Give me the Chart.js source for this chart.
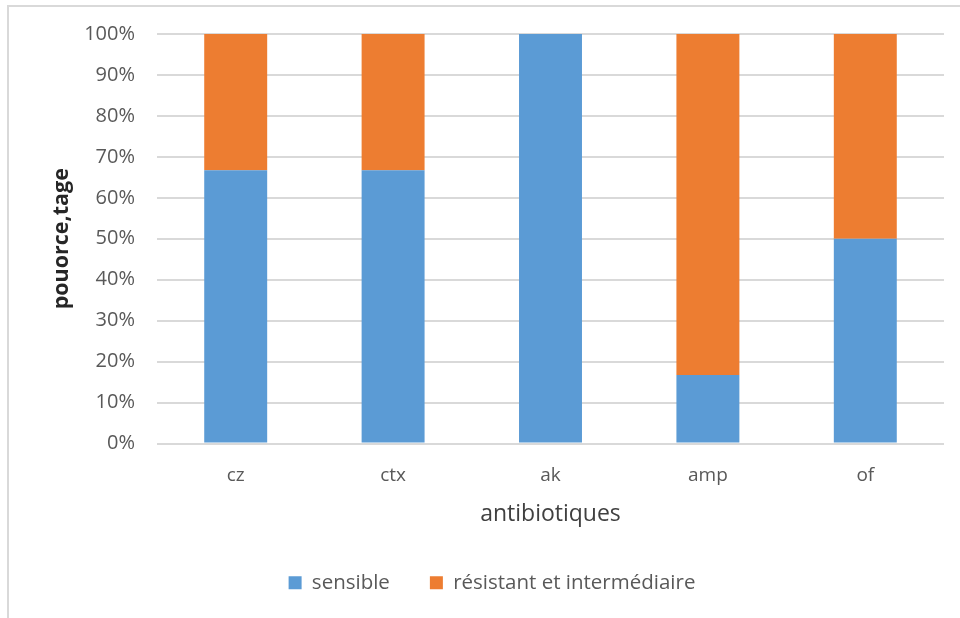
<!DOCTYPE html>
<html>
<head>
<meta charset="utf-8">
<script src="https://cdn.jsdelivr.net/npm/chart.js@4/dist/chart.umd.min.js"></script>
<style>
  html, body { margin: 0; padding: 0; background: #fff; }
  #wrap { position: relative; width: 960px; height: 618px; }
</style>
</head>
<body>
<div id="wrap"><canvas id="c" width="960" height="618"></canvas></div>
<script>
// Antibiotic susceptibility, share of isolates per antibiotic
const categories = ['cz', 'ctx', 'ak', 'amp', 'of'];
const sensible = [66.7, 66.7, 100, 16.7, 50];
const resistantIntermediate = [33.3, 33.3, 0, 83.3, 50];
const yTicks = [0, 10, 20, 30, 40, 50, 60, 70, 80, 90, 100];

const FONT = '"Open Sans", "Liberation Sans", sans-serif';

// Light frame around the chart
const framePlugin = {
  id: 'frame',
  beforeDraw(chart) {
    const ctx = chart.ctx;
    ctx.save();
    ctx.strokeStyle = '#d9d9d9';
    ctx.lineWidth = 2;
    ctx.strokeRect(8, 6, 980, 640);
    ctx.restore();
  }
};

new Chart(document.getElementById('c'), {
  type: 'bar',
  data: {
    labels: categories,
    datasets: [
      { label: 'sensible', data: sensible, backgroundColor: '#5b9bd5', borderWidth: 0 },
      { label: 'résistant et intermédiaire', data: resistantIntermediate, backgroundColor: '#ed7d31', borderWidth: 0 }
    ]
  },
  options: {
    responsive: false,
    animation: false,
    devicePixelRatio: 1,
    layout: { padding: { left: 40, right: 16, top: 34, bottom: 15 } },
    datasets: { bar: { categoryPercentage: 1, barPercentage: 0.4 } },
    plugins: {
      legend: {
        position: 'bottom',
        labels: {
          boxWidth: 13, boxHeight: 13, padding: 40,
          color: '#595959',
          font: { family: FONT, size: 20.5 }
        }
      },
      tooltip: { enabled: false }
    },
    scales: {
      x: {
        stacked: true,
        grid: { display: false, drawTicks: false },
        border: { display: false },
        ticks: { color: '#595959', font: { family: FONT, size: 19 }, padding: 21 },
        title: {
          display: true, text: 'antibiotiques', color: '#404040',
          font: { family: FONT, size: 23 }, padding: { top: 14, bottom: 4 }
        },
        afterFit(s) { s.height = 89; }
      },
      y: {
        stacked: true,
        min: 0, max: 100,
        afterBuildTicks(s) { s.ticks = yTicks.map(v => ({ value: v })); },
        grid: { color: '#d9d9d9', lineWidth: 2, drawTicks: false },
        border: { display: false },
        ticks: {
          color: '#595959', font: { family: FONT, size: 20 }, padding: 22,
          callback: v => v + '%'
        },
        title: {
          display: true, text: 'pouorce,tage', color: '#262626',
          font: { family: FONT, size: 21.5, weight: 'bold' }, padding: { top: 9, bottom: 0 }
        },
        afterFit(s) { s.width = 117; }
      }
    }
  },
  plugins: [framePlugin]
});
</script>
</body>
</html>
